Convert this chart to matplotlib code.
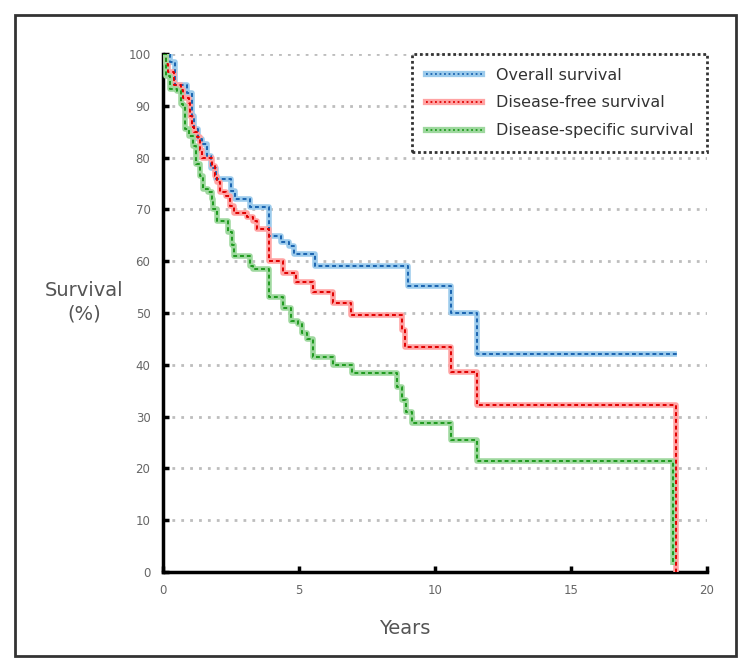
import matplotlib
matplotlib.use("Agg")
import matplotlib.pyplot as plt
from matplotlib.lines import Line2D
from matplotlib.patches import Rectangle

# step data (years, survival %)
overall_t = [0, 0.25, 0.45, 0.9, 1.05, 1.15, 1.3, 1.45, 1.6, 1.75, 1.95, 2.5, 2.65,
             3.2, 3.9, 4.35, 4.65, 4.8, 5.6, 9.0, 10.6, 11.55, 18.9]
overall_s = [100, 98.5, 94, 92.5, 88, 85.5, 83.6, 82.6, 80.3, 78, 75.8, 73.5, 72,
             70.4, 64.8, 63.8, 62.9, 61.3, 59, 55.2, 50, 42, 42]

dfs_t = [0, 0.1, 0.2, 0.4, 0.65, 0.75, 0.95, 1.0, 1.05, 1.15, 1.25, 1.35, 1.45, 1.8,
         1.9, 2.0, 2.1, 2.3, 2.45, 2.6, 3.1, 3.3, 3.45, 3.9, 4.4, 4.9, 5.5, 6.25,
         6.9, 8.8, 8.9, 10.6, 11.55, 18.85]
dfs_s = [100, 98, 96.5, 94, 93, 91.5, 90.5, 88, 86, 85, 84, 81.5, 80, 78.3,
         76.4, 75.2, 73.3, 72.5, 70.6, 69.4, 68.5, 67.7, 66.2, 60, 57.8, 56, 54, 52,
         49.7, 46.8, 43.5, 38.7, 32.3, 0]

dss_t = [0, 0.1, 0.25, 0.5, 0.65, 0.75, 0.8, 0.95, 1.1, 1.2, 1.35, 1.47, 1.65, 1.8,
         1.85, 2.0, 2.4, 2.55, 2.6, 3.2, 3.3, 3.9, 4.4, 4.7, 4.95, 5.1, 5.3, 5.5,
         6.25, 6.95, 8.6, 8.8, 8.95, 9.15, 10.6, 11.55, 18.75]
dss_s = [100, 95.7, 93.2, 92.8, 90.3, 89.9, 85.5, 84.1, 82.2, 78.7, 76.4, 73.9, 73.3, 72,
         70, 67.7, 65.6, 63.2, 61, 59, 58.4, 53, 51, 48.4, 47.8, 46.2, 44.9, 41.6,
         40, 38.5, 35.8, 33.3, 30.8, 28.8, 25.5, 21.5, 1.3]

labels = ["Overall survival", "Disease-free survival", "Disease-specific survival"]
dark = ["#1a64b0", "#e00000", "#1f9a1f"]
light = ["#9ccbec", "#ffa3a3", "#9ed89e"]

yticks = list(range(0, 101, 10))
xticks = [0, 5, 10, 15, 20]

fig = plt.figure(figsize=(7.52, 6.72), dpi=100)
# outer frame round the whole figure
fig.patches.append(Rectangle((15 / 752, 1 - 656 / 672), 721 / 752, 641 / 672,
                             transform=fig.transFigure, fill=False,
                             edgecolor="#333333", linewidth=2))

ax = fig.add_axes([163 / 752, 1 - 572 / 672, 544 / 752, 518 / 672])

handles = []
series = [(overall_t, overall_s), (dfs_t, dfs_s), (dss_t, dss_s)]
for i, (t, s) in enumerate(series):
    ax.step(t, s, where="post", color=light[i], linewidth=4, solid_capstyle="butt", zorder=3)
    ax.step(t, s, where="post", color=dark[i], linewidth=1.4, linestyle=(0, (2, 1.5)), zorder=4)
    h1 = Line2D([], [], color=light[i], linewidth=4.5)
    h2 = Line2D([], [], color=dark[i], linewidth=1.3, linestyle=(0, (1, 1.5)))
    handles.append((h1, h2))

ax.set_xlim(0, 20)
ax.set_ylim(0, 100)
ax.set_xticks(xticks)
ax.set_yticks(yticks)
for y in yticks[1:]:
    ax.axhline(y, color="#bdbdbd", linewidth=2, linestyle=(0, (1, 2.2)), zorder=1)

for side in ["top", "right"]:
    ax.spines[side].set_visible(False)
for side in ["left", "bottom"]:
    ax.spines[side].set_linewidth(2.5)
    ax.spines[side].set_color("black")
ax.tick_params(direction="in", length=4, width=2.5, labelsize=8.5, colors="black",
               labelcolor="#666666", pad=9)

ax.set_xlabel("Years", fontsize=14, color="#555555")
ax.xaxis.set_label_coords(0.445, -0.09)
ax.set_ylabel("Survival\n(%)", fontsize=14, color="#555555", rotation=0,
              ha="center", va="center", linespacing=1.3)
ax.yaxis.set_label_coords(-0.145, 0.52)

leg = ax.legend(handles, labels, loc="upper right", bbox_to_anchor=(1.0, 1.0),
                borderaxespad=0, fontsize=11.5, frameon=True, fancybox=False,
                handlelength=3.5, labelspacing=0.8, borderpad=0.85, handletextpad=0.9,
                labelcolor="#333333")
frame = leg.get_frame()
frame.set_edgecolor("#333333")
frame.set_linestyle((0, (1, 1)))
frame.set_linewidth(2)
frame.set_alpha(1)

fig.savefig("out.png", dpi=100)
